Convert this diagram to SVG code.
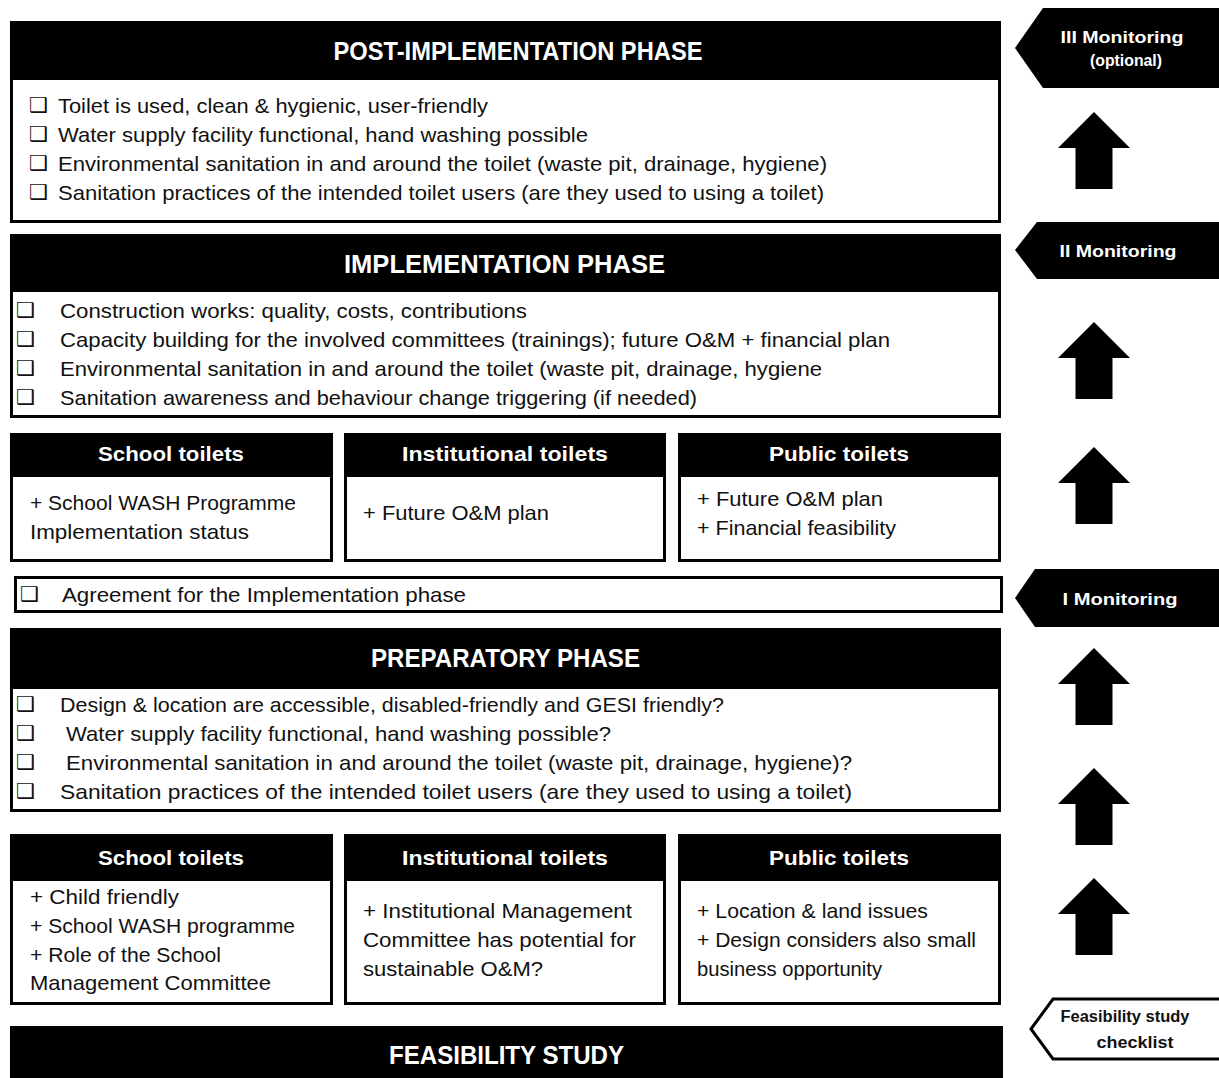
<svg xmlns="http://www.w3.org/2000/svg" width="1219" height="1078" viewBox="0 0 1219 1078">
<style>
.box{fill:#fff;stroke:#000;stroke-width:3}
.hdr{fill:#000}
.h1{font-family:"Liberation Sans",Arial,sans-serif;font-weight:bold;font-size:25px;fill:#fff;text-anchor:middle}
.h2{font-family:"Liberation Sans",Arial,sans-serif;font-weight:bold;font-size:21px;fill:#fff;text-anchor:middle}
.t{font-family:"Liberation Sans",Arial,sans-serif;font-size:21px;fill:#111}
.cb{font-family:"DejaVu Sans",sans-serif;font-weight:bold;font-size:21px;fill:#111}
.m{font-family:"Liberation Sans",Arial,sans-serif;font-weight:bold;font-size:16px;fill:#fff;text-anchor:middle}
.mb{font-family:"Liberation Sans",Arial,sans-serif;font-weight:bold;font-size:16px;fill:#111;text-anchor:middle}
.arr{fill:#000}
</style>
<defs>
<path id="up" d="M0,0 L36,36 L18.5,36 L18.5,77 L-18.5,77 L-18.5,36 L-36,36 Z"/>
</defs>
<rect width="1219" height="1078" fill="#fff"/>

<g id="post">
<rect class="box" x="11.5" y="22.5" width="988" height="199"/>
<rect class="hdr" x="10" y="21" width="991" height="59"/>
<text class="h1" x="518" y="60" textLength="369" lengthAdjust="spacingAndGlyphs">POST-IMPLEMENTATION PHASE</text>
<text class="cb" x="29" y="112">❑</text>
<text class="t" x="58" y="113" textLength="430" lengthAdjust="spacingAndGlyphs">Toilet is used, clean &amp; hygienic, user-friendly</text>
<text class="cb" x="29" y="141">❑</text>
<text class="t" x="58" y="142" textLength="530" lengthAdjust="spacingAndGlyphs">Water supply facility functional, hand washing possible</text>
<text class="cb" x="29" y="170">❑</text>
<text class="t" x="58" y="171" textLength="769" lengthAdjust="spacingAndGlyphs">Environmental sanitation in and around the toilet (waste pit, drainage, hygiene)</text>
<text class="cb" x="29" y="199">❑</text>
<text class="t" x="58" y="200" textLength="766" lengthAdjust="spacingAndGlyphs">Sanitation practices of the intended toilet users (are they used to using a toilet)</text>
</g>

<g id="implementation">
<rect class="box" x="11.5" y="235.5" width="988" height="181"/>
<rect class="hdr" x="10" y="234" width="991" height="58"/>
<text class="h1" x="504.5" y="273" textLength="321" lengthAdjust="spacingAndGlyphs">IMPLEMENTATION PHASE</text>
<text class="cb" x="16" y="317">❑</text>
<text class="t" x="60" y="318" textLength="467" lengthAdjust="spacingAndGlyphs">Construction works: quality, costs, contributions</text>
<text class="cb" x="16" y="346">❑</text>
<text class="t" x="60" y="347" textLength="830" lengthAdjust="spacingAndGlyphs">Capacity building for the involved committees (trainings); future O&amp;M + financial plan</text>
<text class="cb" x="16" y="375">❑</text>
<text class="t" x="60" y="376" textLength="762" lengthAdjust="spacingAndGlyphs">Environmental sanitation in and around the toilet (waste pit, drainage, hygiene</text>
<text class="cb" x="16" y="404">❑</text>
<text class="t" x="60" y="405" textLength="637" lengthAdjust="spacingAndGlyphs">Sanitation awareness and behaviour change triggering (if needed)</text>
</g>

<g id="impl-school">
<rect class="box" x="11.5" y="434.5" width="320" height="126"/>
<rect class="hdr" x="10" y="433" width="323" height="44"/>
<text class="h2" x="171" y="461" textLength="146" lengthAdjust="spacingAndGlyphs">School toilets</text>
<text class="t" x="30" y="510" textLength="266" lengthAdjust="spacingAndGlyphs">+ School WASH Programme</text>
<text class="t" x="30" y="539" textLength="219" lengthAdjust="spacingAndGlyphs">Implementation status</text>
</g>
<g id="impl-institutional">
<rect class="box" x="345.5" y="434.5" width="319" height="126"/>
<rect class="hdr" x="344" y="433" width="322" height="44"/>
<text class="h2" x="505" y="461" textLength="206" lengthAdjust="spacingAndGlyphs">Institutional toilets</text>
<text class="t" x="363" y="520" textLength="186" lengthAdjust="spacingAndGlyphs">+ Future O&amp;M plan</text>
</g>
<g id="impl-public">
<rect class="box" x="679.5" y="434.5" width="320" height="126"/>
<rect class="hdr" x="678" y="433" width="323" height="44"/>
<text class="h2" x="839" y="461" textLength="140" lengthAdjust="spacingAndGlyphs">Public toilets</text>
<text class="t" x="697" y="506" textLength="186" lengthAdjust="spacingAndGlyphs">+ Future O&amp;M plan</text>
<text class="t" x="697" y="535" textLength="199" lengthAdjust="spacingAndGlyphs">+ Financial feasibility</text>
</g>

<g id="agreement">
<rect class="box" x="15.5" y="577.5" width="986" height="34"/>
<text class="cb" x="20" y="601">❑</text>
<text class="t" x="62" y="602" textLength="404" lengthAdjust="spacingAndGlyphs">Agreement for the Implementation phase</text>
</g>

<g id="preparatory">
<rect class="box" x="11.5" y="629.5" width="988" height="181"/>
<rect class="hdr" x="10" y="628" width="991" height="61"/>
<text class="h1" x="505.5" y="667" textLength="269" lengthAdjust="spacingAndGlyphs">PREPARATORY PHASE</text>
<text class="cb" x="16" y="711">❑</text>
<text class="t" x="60" y="712" textLength="664" lengthAdjust="spacingAndGlyphs">Design &amp; location are accessible, disabled-friendly and GESI friendly?</text>
<text class="cb" x="16" y="740">❑</text>
<text class="t" x="66" y="741" textLength="545" lengthAdjust="spacingAndGlyphs">Water supply facility functional, hand washing possible?</text>
<text class="cb" x="16" y="769">❑</text>
<text class="t" x="66" y="770" textLength="786" lengthAdjust="spacingAndGlyphs">Environmental sanitation in and around the toilet (waste pit, drainage, hygiene)?</text>
<text class="cb" x="16" y="798">❑</text>
<text class="t" x="60" y="799" textLength="792" lengthAdjust="spacingAndGlyphs">Sanitation practices of the intended toilet users (are they used to using a toilet)</text>
</g>

<g id="prep-school">
<rect class="box" x="11.5" y="835.5" width="320" height="168"/>
<rect class="hdr" x="10" y="834" width="323" height="47"/>
<text class="h2" x="171" y="865" textLength="146" lengthAdjust="spacingAndGlyphs">School toilets</text>
<text class="t" x="30" y="904" textLength="149" lengthAdjust="spacingAndGlyphs">+ Child  friendly</text>
<text class="t" x="30" y="933" textLength="265" lengthAdjust="spacingAndGlyphs">+ School WASH programme</text>
<text class="t" x="30" y="962" textLength="191" lengthAdjust="spacingAndGlyphs">+ Role of the School</text>
<text class="t" x="30" y="990" textLength="241" lengthAdjust="spacingAndGlyphs">Management Committee</text>
</g>
<g id="prep-institutional">
<rect class="box" x="345.5" y="835.5" width="319" height="168"/>
<rect class="hdr" x="344" y="834" width="322" height="47"/>
<text class="h2" x="505" y="865" textLength="206" lengthAdjust="spacingAndGlyphs">Institutional toilets</text>
<text class="t" x="363" y="918" textLength="269" lengthAdjust="spacingAndGlyphs">+ Institutional Management</text>
<text class="t" x="363" y="947" textLength="273" lengthAdjust="spacingAndGlyphs">Committee has potential for</text>
<text class="t" x="363" y="976" textLength="180" lengthAdjust="spacingAndGlyphs">sustainable O&amp;M?</text>
</g>
<g id="prep-public">
<rect class="box" x="679.5" y="835.5" width="320" height="168"/>
<rect class="hdr" x="678" y="834" width="323" height="47"/>
<text class="h2" x="839" y="865" textLength="140" lengthAdjust="spacingAndGlyphs">Public toilets</text>
<text class="t" x="697" y="918" textLength="231" lengthAdjust="spacingAndGlyphs">+ Location &amp; land issues</text>
<text class="t" x="697" y="947" textLength="279" lengthAdjust="spacingAndGlyphs">+ Design considers also small</text>
<text class="t" x="697" y="976" textLength="185" lengthAdjust="spacingAndGlyphs">business opportunity</text>
</g>

<g id="feasibility">
<rect class="hdr" x="10" y="1026" width="993" height="52"/>
<text class="h1" x="506.5" y="1064" textLength="235" lengthAdjust="spacingAndGlyphs">FEASIBILITY STUDY</text>
</g>

<g id="mon3">
<polygon class="hdr" points="1015,48 1043,8 1219,8 1219,88 1043,88"/>
<text class="m" x="1122" y="43" textLength="123" lengthAdjust="spacingAndGlyphs">III Monitoring</text>
<text class="m" x="1126" y="66" textLength="72" lengthAdjust="spacingAndGlyphs">(optional)</text>
</g>
<g id="mon2">
<polygon class="hdr" points="1015,250 1037,222 1219,222 1219,279 1037,279"/>
<text class="m" x="1118" y="257" textLength="117" lengthAdjust="spacingAndGlyphs">II Monitoring</text>
</g>
<g id="mon1">
<polygon class="hdr" points="1015,598 1035,569 1219,569 1219,627 1035,627"/>
<text class="m" x="1120" y="605" textLength="115" lengthAdjust="spacingAndGlyphs">I  Monitoring</text>
</g>
<g id="checklist">
<polygon points="1031,1029 1053,999 1222,999 1222,1059 1053,1059" fill="#fff" stroke="#000" stroke-width="3"/>
<text class="mb" x="1125" y="1022" textLength="129" lengthAdjust="spacingAndGlyphs">Feasibility study</text>
<text class="mb" x="1135" y="1048" textLength="77" lengthAdjust="spacingAndGlyphs">checklist</text>
</g>

<g id="connectors">
<use href="#up" class="arr" transform="translate(1094,112)"/>
<use href="#up" class="arr" transform="translate(1094,322)"/>
<use href="#up" class="arr" transform="translate(1094,447)"/>
<use href="#up" class="arr" transform="translate(1094,648)"/>
<use href="#up" class="arr" transform="translate(1094,768)"/>
<use href="#up" class="arr" transform="translate(1094,878)"/>
</g>
</svg>
